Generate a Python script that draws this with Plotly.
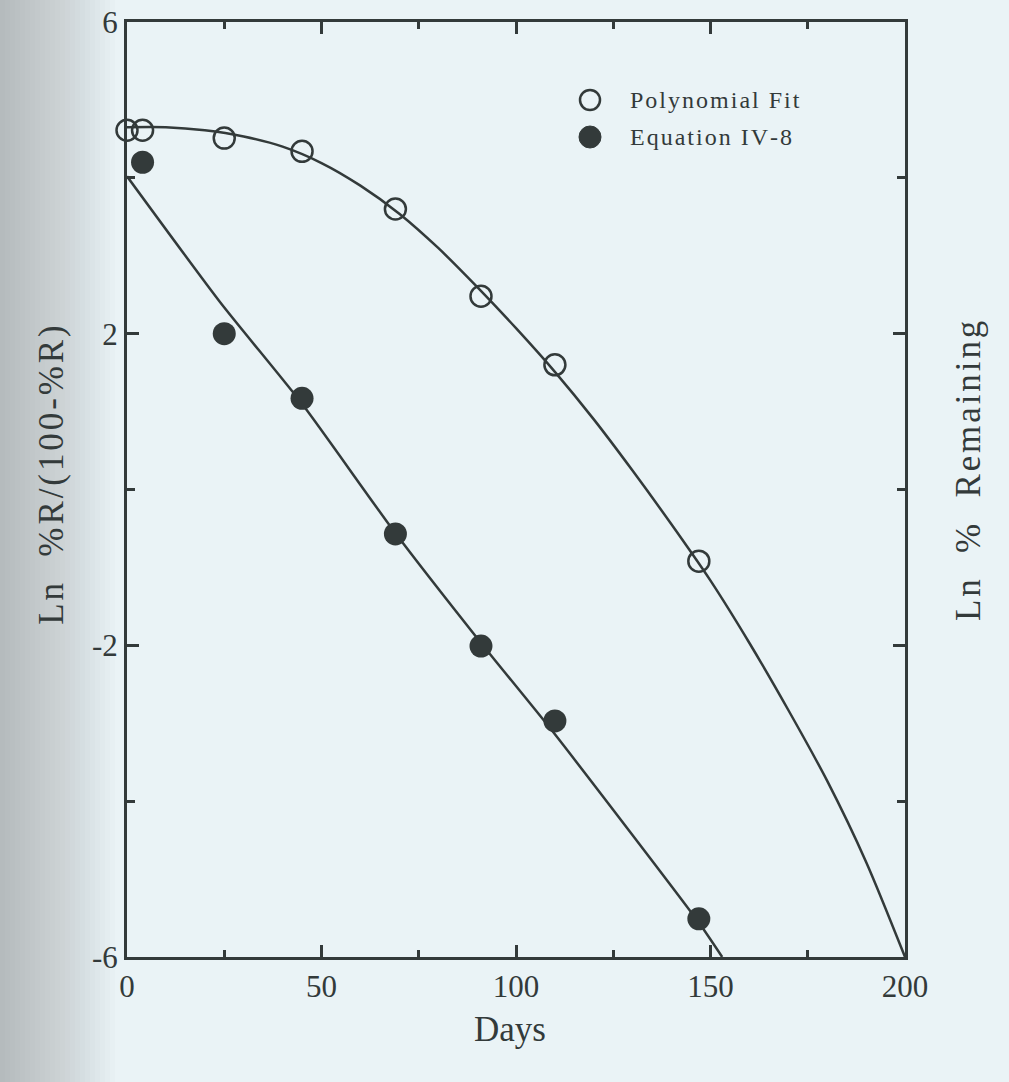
import plotly.graph_objects as go

# Observed data points
days = [0, 4, 25, 45, 69, 91, 110, 147]
poly_pts = [4.61, 4.61, 4.51, 4.34, 3.60, 2.48, 1.60, -0.92]
eq_days = [4, 25, 45, 69, 91, 110, 147]
eq_pts = [4.20, 2.00, 1.17, -0.57, -2.01, -2.97, -5.51]

# Fitted curves
poly_curve_x = [0, 10, 20, 30, 40, 50, 60, 70, 80, 90, 100, 110, 120, 130, 140, 150,
                160, 170, 180, 190, 200]
poly_curve_y = [4.65, 4.65, 4.61, 4.53, 4.40, 4.19, 3.90, 3.54, 3.10, 2.60, 2.07, 1.51,
                0.90, 0.24, -0.45, -1.17, -1.97, -2.83, -3.74, -4.78, -6.0]
eq_curve_x = [0, 24, 45, 68.4, 90.7, 109.5, 147.3, 153]
eq_curve_y = [4.02, 2.40, 1.10, -0.52, -1.95, -3.11, -5.58, -6.0]

x_ticks = [0, 50, 100, 150, 200]
y_ticks = [-6, -2, 2, 6]

INK = "#333a3a"
BG = "#eaf3f6"
FONT = "Liberation Serif"


def spaced(text, gap):
    """Typeset-style tracking: put a narrow space between the characters."""
    return gap.join(text)


fig = go.Figure()

fig.add_trace(go.Scatter(x=poly_curve_x, y=poly_curve_y, mode="lines",
                         line=dict(color=INK, width=2.5, shape="spline", smoothing=0.8),
                         showlegend=False, hoverinfo="skip"))
fig.add_trace(go.Scatter(x=eq_curve_x, y=eq_curve_y, mode="lines",
                         line=dict(color=INK, width=2.5, shape="spline", smoothing=0.6),
                         showlegend=False, hoverinfo="skip"))

fig.add_trace(go.Scatter(x=days, y=poly_pts, mode="markers", name="Polynomial Fit",
                         marker=dict(symbol="circle-open", size=21, color=INK,
                                     line=dict(width=2.5, color=INK)),
                         cliponaxis=False, showlegend=False))
fig.add_trace(go.Scatter(x=eq_days, y=eq_pts, mode="markers", name="Equation IV-8",
                         marker=dict(symbol="circle", size=23, color=INK),
                         cliponaxis=False, showlegend=False))

# Soft shading along the left edge of the page
shapes = []
for w in range(5, 120, 5):
    shapes.append(dict(type="rect", xref="paper", yref="paper",
                       x0=-127 / 778, x1=(w - 127) / 778, y0=-0.2, y1=1.1,
                       fillcolor="#7a868a", opacity=0.025, line_width=0, layer="below"))

# Legend key symbols
LEG_X = (590 - 127) / 778
LEG_Y1 = (957 - 100) / 935
LEG_Y2 = (957 - 137) / 935
shapes.append(dict(type="circle", xref="paper", yref="paper", xsizemode="pixel",
                   ysizemode="pixel", xanchor=LEG_X, yanchor=LEG_Y1,
                   x0=-10, x1=10, y0=-10, y1=10, line=dict(color=INK, width=2.5)))
shapes.append(dict(type="circle", xref="paper", yref="paper", xsizemode="pixel",
                   ysizemode="pixel", xanchor=LEG_X, yanchor=LEG_Y2,
                   x0=-11, x1=11, y0=-11, y1=11, fillcolor=INK, line=dict(color=INK, width=1)))

axis_common = dict(showline=True, linecolor=INK, linewidth=3, mirror="ticks",
                   ticks="inside", ticklen=12, tickwidth=2.5, tickcolor=INK,
                   showgrid=False, zeroline=False, automargin=False,
                   tickfont=dict(family=FONT, size=31, color=INK))

TEXT_X = (628 - 127) / 778

fig.update_layout(
    width=1009, height=1082,
    margin=dict(l=127, r=104, t=22, b=125),
    paper_bgcolor=BG, plot_bgcolor=BG,
    font=dict(family=FONT, color=INK),
    shapes=shapes,
    showlegend=False,
    xaxis=dict(range=[0, 200], tickvals=x_ticks, ticktext=[str(v) for v in x_ticks],
               minor=dict(tickvals=[25, 75, 125, 175], ticklen=7, tickwidth=2.5,
                          tickcolor=INK, ticks="inside"),
               **axis_common),
    yaxis=dict(range=[-6, 6], tickvals=y_ticks, ticktext=[str(v) for v in y_ticks],
               minor=dict(tickvals=[-4, 0, 4], ticklen=8, tickwidth=2.5,
                          tickcolor=INK, ticks="inside"),
               **axis_common),
    annotations=[
        dict(text=spaced("Polynomial Fit", "\u200a"), xref="paper", yref="paper",
             x=TEXT_X, y=LEG_Y1, xanchor="left", yanchor="middle", showarrow=False,
             font=dict(family=FONT, size=24, color=INK)),
        dict(text=spaced("Equation IV-8", "\u200a"), xref="paper", yref="paper",
             x=TEXT_X, y=LEG_Y2, xanchor="left", yanchor="middle", showarrow=False,
             font=dict(family=FONT, size=24, color=INK)),
        dict(text="Days", xref="paper", yref="paper", x=0.492, y=-0.1,
             showarrow=False, font=dict(family=FONT, size=35, color=INK)),
        dict(text=spaced("Ln  %R/(100-%R)", "\u200a"), xref="paper", yref="paper",
             x=-0.125, y=0.515, textangle=-90, showarrow=False,
             font=dict(family=FONT, size=35, color=INK)),
        dict(text=spaced("Ln  %  Remaining", "\u200a"), xref="paper", yref="paper",
             x=1.109, y=0.52, textangle=-90, showarrow=False,
             font=dict(family=FONT, size=35, color=INK)),
    ],
)

fig.write_html("out.html")
